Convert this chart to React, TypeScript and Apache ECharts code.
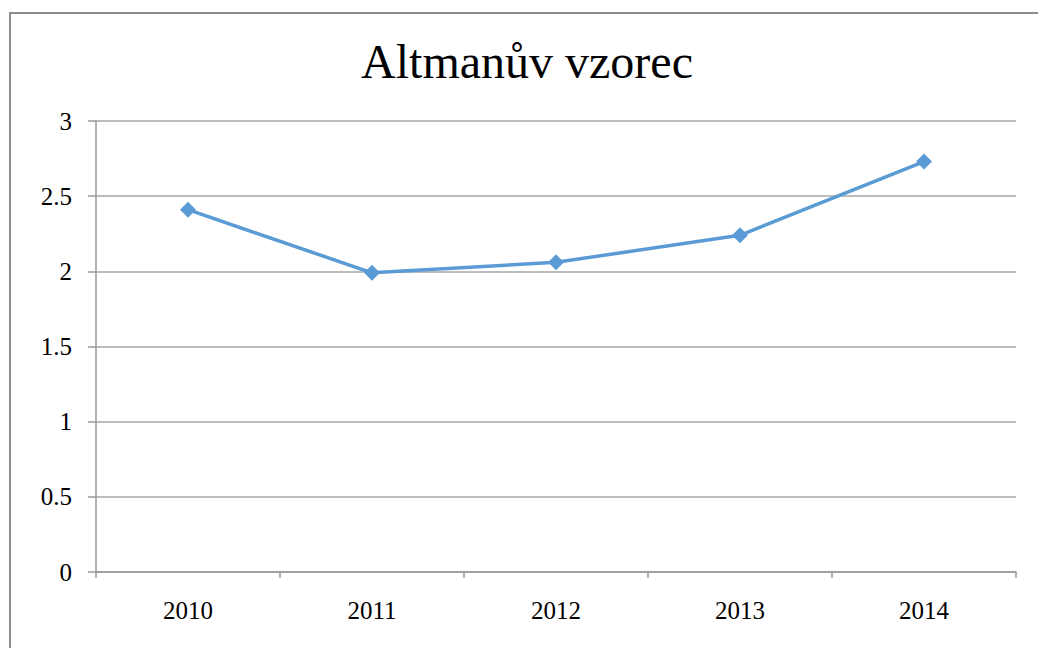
import React, { useEffect, useRef } from "react";
import * as echarts from "echarts";

const categories = ["2010", "2011", "2012", "2013", "2014"];
const values = [2.41, 1.99, 2.06, 2.24, 2.73];
const titleText = "Altmanův vzorec";

export default function App() {
  const ref = useRef<HTMLDivElement>(null);
  useEffect(() => {
    const chart = echarts.init(ref.current!, null, { renderer: "svg" });
    const font = "'Liberation Serif', 'Times New Roman', serif";
    chart.setOption({
      animation: false,
      backgroundColor: "#ffffff",
      title: {
        text: titleText,
        left: 522,
        top: 32,
        textAlign: "center",
        textStyle: { fontFamily: font, fontSize: 48, fontWeight: "normal", color: "#000" },
      },
      graphic: [
        {
          type: "rect",
          shape: { x: 10, y: 13, width: 1100, height: 700 },
          style: { fill: "none", stroke: "#8c8c8c", lineWidth: 2 },
          silent: true,
        },
      ],
      grid: { left: 96, right: 22, top: 121, bottom: 76 },
      xAxis: {
        type: "category",
        data: categories,
        boundaryGap: true,
        axisLine: { show: true, lineStyle: { color: "#989898", width: 1.5 } },
        axisTick: { show: true, alignWithLabel: false, length: 6, lineStyle: { color: "#989898", width: 1.5 } },
        axisLabel: { fontFamily: font, fontSize: 25, color: "#000", margin: 26 },
      },
      yAxis: {
        type: "value",
        min: 0,
        max: 3,
        interval: 0.5,
        axisLine: { show: true, lineStyle: { color: "#989898", width: 1.5 } },
        axisTick: { show: true, length: 8, lineStyle: { color: "#989898", width: 1.5 } },
        splitLine: { show: true, lineStyle: { color: "#a6a6a6", width: 1.5 } },
        axisLabel: { fontFamily: font, fontSize: 25, color: "#000", margin: 24 },
      },
      series: [
        {
          type: "line",
          data: values,
          symbol: "diamond",
          symbolSize: 16,
          itemStyle: { color: "#5B9BD5" },
          lineStyle: { color: "#5B9BD5", width: 3.5 },
        },
      ],
    });
    return () => chart.dispose();
  }, []);
  return (
    <div
      ref={ref}
      style={{ position: "fixed", left: 0, top: 0, width: 1038, height: 648 }}
    />
  );
}
